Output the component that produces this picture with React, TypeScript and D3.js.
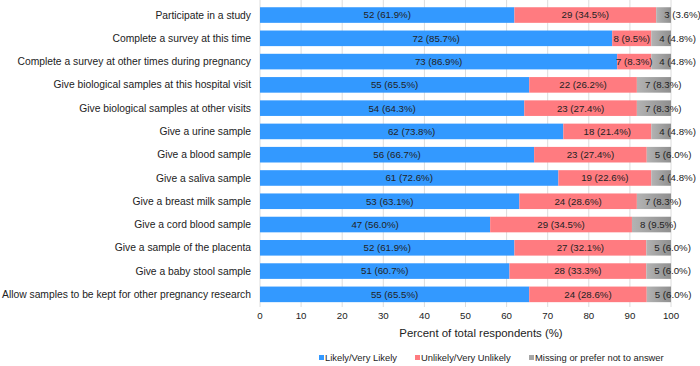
import React from 'react';
import * as d3 from 'd3';

const categories = [
  'Participate in a study',
  'Complete a survey at this time',
  'Complete a survey at other times during pregnancy',
  'Give biological samples at this hospital visit',
  'Give biological samples at other visits',
  'Give a urine sample',
  'Give a blood sample',
  'Give a saliva sample',
  'Give a breast milk sample',
  'Give a cord blood sample',
  'Give a sample of the placenta',
  'Give a baby stool sample',
  'Allow samples to be kept for other pregnancy research',
];

const likelyCount = [52, 72, 73, 55, 54, 62, 56, 61, 53, 47, 52, 51, 55];
const likelyPct = [61.9, 85.7, 86.9, 65.5, 64.3, 73.8, 66.7, 72.6, 63.1, 56.0, 61.9, 60.7, 65.5];
const unlikelyCount = [29, 8, 7, 22, 23, 18, 23, 19, 24, 29, 27, 28, 24];
const unlikelyPct = [34.5, 9.5, 8.3, 26.2, 27.4, 21.4, 27.4, 22.6, 28.6, 34.5, 32.1, 33.3, 28.6];
const missingCount = [3, 4, 4, 7, 7, 4, 5, 4, 7, 8, 5, 5, 5];
const missingPct = [3.6, 4.8, 4.8, 8.3, 8.3, 4.8, 6.0, 4.8, 8.3, 9.5, 6.0, 6.0, 6.0];

const xTicks = [0, 10, 20, 30, 40, 50, 60, 70, 80, 90, 100];

const seriesNames = ['Likely/Very Likely', 'Unlikely/Very Unlikely', 'Missing or prefer not to answer'];
const colors = ['#3399ff', '#ff7b80', 'url(#greyGrad)'];
const legendColors = ['#3399ff', '#ff7b80', '#a6a6a6'];

const font = 'Liberation Sans, Arial, sans-serif';
const textColor = '#222';

export default function App() {
  const x = d3.scaleLinear().domain([0, 100]).range([260, 671]);
  const y = d3.scaleBand<string>()
    .domain(categories)
    .range([3.4, 306])
    .paddingInner(0.33)
    .paddingOuter(0.165);

  const rows = categories.map((c, i) => {
    const segs = [
      { v: likelyPct[i], n: likelyCount[i] },
      { v: unlikelyPct[i], n: unlikelyCount[i] },
      { v: missingPct[i], n: missingCount[i] },
    ];
    let acc = 0;
    return segs.map((s, k) => {
      const x0 = acc;
      acc += s.v;
      return { cat: c, k, x0, x1: Math.min(acc, 100), label: `${s.n} (${s.v.toFixed(1)}%)` };
    });
  });

  const legendX = [319, 415, 529];

  return (
    <svg width={700} height={366} style={{ position: 'absolute', left: 0, top: 0, background: '#fff' }}>
      <defs>
        <linearGradient id="greyGrad" x1="0" x2="1" y1="0" y2="0">
          <stop offset="0" stopColor="#b3b3b3" />
          <stop offset="1" stopColor="#8f8f8f" />
        </linearGradient>
      </defs>
      {xTicks.map(t => (
        <line key={t} x1={x(t)} x2={x(t)} y1={0} y2={307} stroke="#dcdcdc" strokeWidth={1} />
      ))}
      {rows.map((segs, i) => (
        <g key={categories[i]}>
          {segs.map(s => (
            <rect key={s.k} x={x(s.x0)} y={y(s.cat)} width={x(s.x1) - x(s.x0)} height={y.bandwidth()} fill={colors[s.k]} />
          ))}
          {segs.map(s => (
            <text
              key={'t' + s.k}
              x={s.k === 2 ? x(s.x0) + 8 : (x(s.x0) + x(s.x1)) / 2}
              y={(y(s.cat) as number) + y.bandwidth() / 2}
              dy="0.35em"
              textAnchor={s.k === 2 ? 'start' : 'middle'}
              fontFamily={font}
              fontSize={9.7}
              fill={textColor}
            >
              {s.label}
            </text>
          ))}
          <text
            x={251}
            y={(y(categories[i]) as number) + y.bandwidth() / 2}
            dy="0.35em"
            textAnchor="end"
            fontFamily={font}
            fontSize={10.3}
            fill={textColor}
          >
            {categories[i]}
          </text>
        </g>
      ))}
      {xTicks.map(t => (
        <text key={'x' + t} x={x(t)} y={316} dy="0.35em" textAnchor="middle" fontFamily={font} fontSize={9.7} fill={textColor}>
          {t}
        </text>
      ))}
      <text x={481} y={333} dy="0.35em" textAnchor="middle" fontFamily={font} fontSize={11.4} fill={textColor}>
        Percent of total respondents (%)
      </text>
      {seriesNames.map((name, k) => (
        <g key={name}>
          <rect x={legendX[k]} y={355} width={5} height={5} fill={legendColors[k]} />
          <text x={legendX[k] + 6} y={358} dy="0.35em" fontFamily={font} fontSize={9.4} fill={textColor}>
            {name}
          </text>
        </g>
      ))}
    </svg>
  );
}
